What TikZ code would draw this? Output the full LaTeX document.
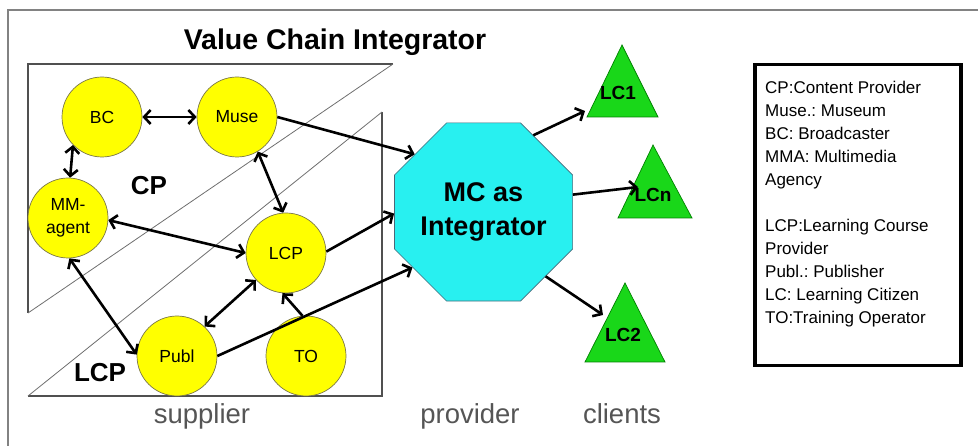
\documentclass[tikz,border=0pt]{standalone}
\usepackage{fontspec}
\setmainfont{Liberation Sans}
\usetikzlibrary{arrows.meta,shapes.geometric}
\definecolor{nodeyellow}{RGB}{255,255,0}
\definecolor{mccyan}{RGB}{40,240,240}
\definecolor{trigreen}{RGB}{25,215,25}
\definecolor{labelgray}{RGB}{85,85,85}
\definecolor{framegray}{RGB}{130,130,130}
\definecolor{boxgray}{RGB}{80,80,80}
\definecolor{diaggray}{RGB}{110,110,110}
\frenchspacing
\begin{document}
\begin{tikzpicture}[x=1pt,y=-1pt,
  actor/.style={circle, draw=black!60!yellow, line width=0.7pt, fill=nodeyellow,
    minimum size=80pt, inner sep=0pt, align=center,
    font=\fontsize{17.5}{23}\selectfont},
  octa/.style={regular polygon, regular polygon sides=8, draw=black!60!cyan,
    line width=0.7pt, fill=mccyan, minimum size=187pt, inner sep=0pt,
    align=center, font=\bfseries\fontsize{27}{34}\selectfont},
  tri/.style={fill=trigreen, draw=black!50!green, line width=0.7pt},
  trilabel/.style={inner sep=0pt, font=\bfseries\fontsize{19}{22}\selectfont},
  arr/.style={line width=2.6pt, -{Straight Barb[length=6.5pt,width=14pt]}},
  darr/.style={line width=2.6pt, {Straight Barb[length=6.5pt,width=14pt]}-{Straight Barb[length=6.5pt,width=14pt]}},
  regionline/.style={boxgray, line width=1.1pt},
  diagline/.style={diaggray, line width=0.8pt},
  caption/.style={text=labelgray, inner sep=0pt, font=\fontsize{27.5}{30}\selectfont},
  regionlabel/.style={inner sep=0pt, font=\bfseries\fontsize{26}{30}\selectfont},
  titlestyle/.style={inner sep=0pt, font=\bfseries\fontsize{28.5}{32}\selectfont},
  legendtext/.style={inner sep=0pt, align=left, font=\frenchspacing\fontsize{17}{23}\selectfont}
]
\useasboundingbox (0,0) rectangle (978,446);
% outer frame (top and left edges visible)
\draw[framegray, line width=1.5pt] (8,446) -- (8,10) -- (978,10);

% title
\node[titlestyle, anchor=base] (title) at (335,50) {Value Chain Integrator};

% regions
\draw[regionline] (28,313) -- (28,64) -- (393,64);
\draw[diagline] (393,64) -- (28,313);
\draw[regionline] (28,396) -- (382,396) -- (382,112);
\draw[diagline] (382,112) -- (28,396);

\node[regionlabel, anchor=base] (cplabel) at (149,195) {CP};
\node[regionlabel, anchor=base] (lcplabel) at (100,382) {LCP};

% actors
\node[actor] (bc) at (102,117) {BC};
\node[actor] (muse) at (237,117) {Muse};
\node[actor] (mm) at (68,218) {MM-\\agent};
\node[actor] (lcp) at (286,253) {LCP};
\node[actor] (publ) at (177,356) {Publ};
\node[actor] (to) at (306,356) {TO};

% integrator
\node[octa] (mc) at (483.5,212) {MC as\\Integrator};

% clients
\filldraw[tri] (587,117) -- (622,45) -- (658,117) -- cycle;
\filldraw[tri] (618,218) -- (653,145) -- (692,218) -- cycle;
\filldraw[tri] (585,362) -- (625,283) -- (665,362) -- cycle;
\node[trilabel] (lc1) at (618,93) {LC1};
\node[trilabel] (lcn) at (653,195) {LCn};
\node[trilabel] (lc2) at (623,335) {LC2};
\coordinate (lc1in) at (585,111);
\coordinate (lcnin) at (638,187);
\coordinate (lc2in) at (603,315);

% connectors
\draw[darr] (bc.east) -- (muse.west);
\draw[darr] (bc.224) -- (mm.87);
\draw[darr] (muse.-59) -- (lcp.94);
\draw[darr] (mm.-3) -- (lcp.west);
\draw[darr] (mm.272) -- (publ.178);
\draw[darr] (publ.47) -- (lcp.222);
\draw[arr] (to.95) -- (lcp.265);
\draw[arr] (muse.east) -- (mc.140);
\draw[arr] (lcp.2) -- (mc.181);
\draw[arr] (publ.east) -- (mc.218);
\draw[arr] (mc.57) -- (lc1in);
\draw[arr] (mc.11) -- (lcnin);
\draw[arr] (mc.-46) -- (lc2in);

% captions
\node[caption, anchor=base] (supplier) at (202,424) {supplier};
\node[caption, anchor=base] (provider) at (470,424) {provider};
\node[caption, anchor=base] (clients) at (622,424) {clients};

% legend
\node[draw=black, line width=3.5pt, rectangle, minimum width=206pt, minimum height=301pt,
  inner sep=0pt, anchor=north west] (legend) at (753,63) {};
\node[legendtext, anchor=north west] (legendbody) at (765,80.5)
  {CP:Content Provider\\Muse.: Museum\\BC: Broadcaster\\MMA: Multimedia\\Agency\\[23pt]%
   LCP:Learning Course\\Provider\\Publ.: Publisher\\LC: Learning Citizen\\TO:Training Operator};
\end{tikzpicture}
\end{document}
